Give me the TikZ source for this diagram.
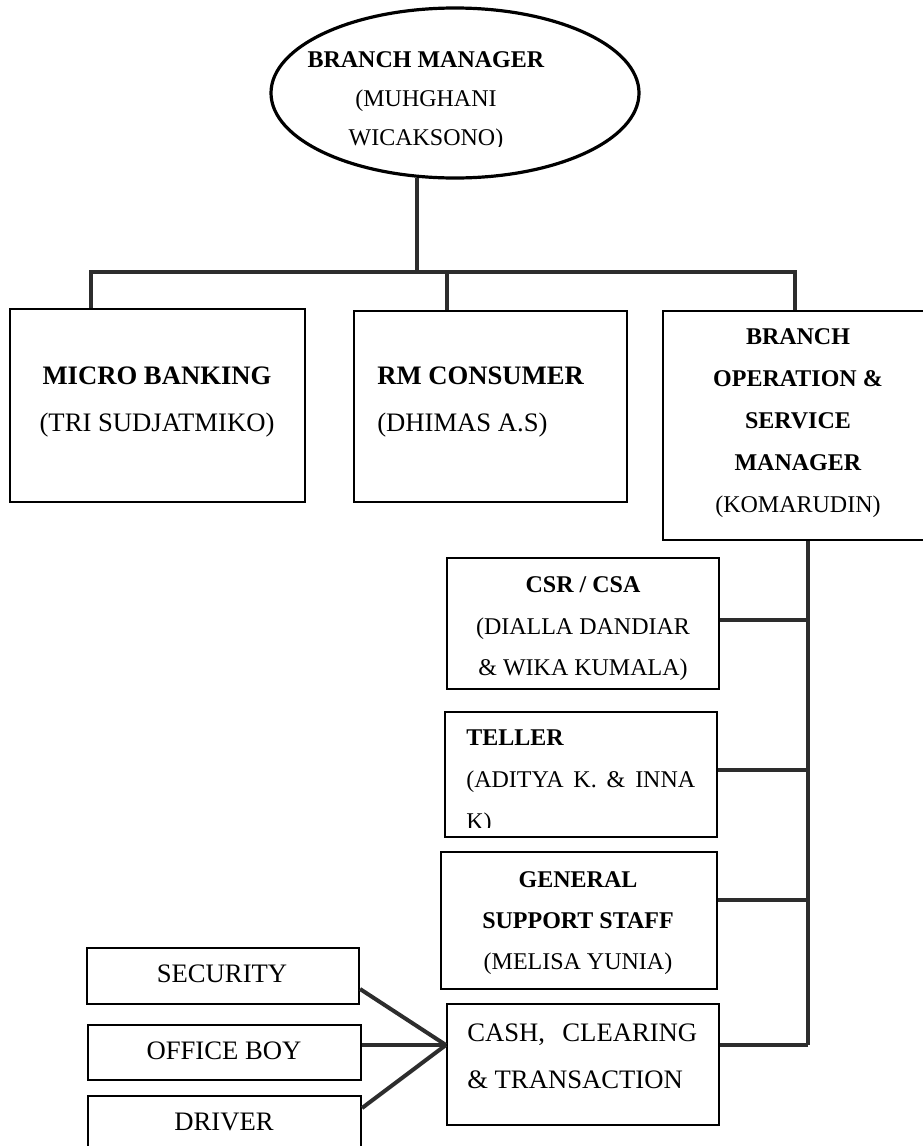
\documentclass[tikz,border=0pt]{standalone}
\usepackage{fontspec}
\setmainfont{Liberation Serif}
\usetikzlibrary{shapes.geometric,fit}
\definecolor{connc}{RGB}{45,45,45}
\tikzset{
  box/.style={draw=black,line width=1.6pt,inner sep=0pt,rectangle},
  conn/.style={draw=connc,line width=3pt},
  txt/.style={inner sep=0pt,align=center},
  txtl/.style={inner sep=0pt,align=left,anchor=west},
  big/.style={font=\fontsize{20}{35.25}\selectfont},
  small/.style={font=\fontsize{18}{31.5}\selectfont}
}
\begin{document}
\begin{tikzpicture}[x=0.75pt,y=-0.75pt]
\useasboundingbox (0,0) rectangle (923,1146);

% top ellipse
\node[draw=black,line width=2.4pt,ellipse,minimum width=276pt,minimum height=127.5pt,inner sep=0pt] (bm) at (455,93) {};
\begin{scope}
\clip (285,15) rectangle (600,146);
\node[txt,font=\fontsize{18}{29.4}\selectfont] (bmt) at (426,101) {\textbf{BRANCH MANAGER}\\(MUHGHANI\\WICAKSONO)};
\end{scope}

% second level boxes
\node[box,fit={(10,309)(305,502)}] (mb) {};
\node[box,fit={(354,311)(627,502)}] (rm) {};
\node[box,fit={(663,311)(927,540)}] (bo) {};

\node[txt,big] (mbt) at (157,402) {\textbf{MICRO BANKING}\\(TRI SUDJATMIKO)};
\node[txtl,big] (rmt) at (377,402) {\textbf{RM CONSUMER}\\(DHIMAS A.S)};
\node[txt,font=\fontsize{18}{31.5}\selectfont] (bot) at (798,423.5) {\textbf{BRANCH}\\\textbf{OPERATION \&}\\\textbf{SERVICE}\\\textbf{MANAGER}\\(KOMARUDIN)};

% third level boxes
\node[box,fit={(447,558)(719,689)}] (csr) {};
\node[box,fit={(445,712)(717,837)}] (tel) {};
\node[box,fit={(441,852)(717,989)}] (gen) {};
\node[box,fit={(447,1004)(719,1125)}] (cash) {};

\node[txt,font=\fontsize{18}{31.1}\selectfont] (csrt) at (583,629) {\textbf{CSR / CSA}\\(DIALLA DANDIAR\\\& WIKA KUMALA)};
\begin{scope}
\clip (447,714) rectangle (715,827);
\node[txtl,font=\fontsize{18}{31.5}\selectfont] (telt) at (466,782) {\textbf{TELLER}\\\makebox[171.75pt][s]{(ADITYA K. \& INNA}\\K)};
\end{scope}
\node[txt,font=\fontsize{18}{30.75}\selectfont] (gent) at (578,923) {\textbf{GENERAL}\\\textbf{SUPPORT STAFF}\\(MELISA YUNIA)};
\node[txtl,big] (casht) at (467,1056.5) {\makebox[172.5pt][s]{CASH, CLEARING}\\\& TRANSACTION};

% bottom-left boxes
\node[box,fit={(87,948)(359,1004)}] (sec) {};
\node[box,fit={(88,1025)(361,1080)}] (ob) {};
\node[box,fit={(88,1096)(361,1152)}] (drv) {};
\node[txt,big] (sect) at (222,974) {SECURITY};
\node[txt,big] (obt) at (224,1051) {OFFICE BOY};
\node[txt,big] (drvt) at (224,1122) {DRIVER};

% helper coordinates
\coordinate (j0) at (417,272);
\coordinate (xl) at (91,0);
\coordinate (xm) at (447,0);
\coordinate (xr) at (795,0);
\coordinate (sp) at (808,0);
\coordinate (ycsr) at (0,620);
\coordinate (ytel) at (0,770);
\coordinate (ygen) at (0,900);
\coordinate (ycash) at (0,1045);
\coordinate (ysec) at (0,989);
\coordinate (ydrv) at (0,1108);

% connectors
\draw[conn] ([yshift=1.5pt]bm.south -| j0) -- (j0);
\draw[conn] (mb.north -| xl) -- (xl |- j0) -- (xr |- j0) -- (bo.north -| xr);
\draw[conn] (rm.north -| xm) -- (xm |- j0);
\draw[conn] (bo.south -| sp) -- (sp |- ycash);
\draw[conn] (csr.east |- ycsr) -- (sp |- ycsr);
\draw[conn] (tel.east |- ytel) -- (sp |- ytel);
\draw[conn] (gen.east |- ygen) -- (sp |- ygen);
\draw[conn] (cash.east |- ycash) -- (sp |- ycash);
\draw[conn] (sec.east |- ysec) -- (cash.west |- ycash);
\draw[conn] (ob.east |- ycash) -- (cash.west |- ycash);
\draw[conn] (drv.east |- ydrv) -- (cash.west |- ycash);
\end{tikzpicture}
\end{document}
